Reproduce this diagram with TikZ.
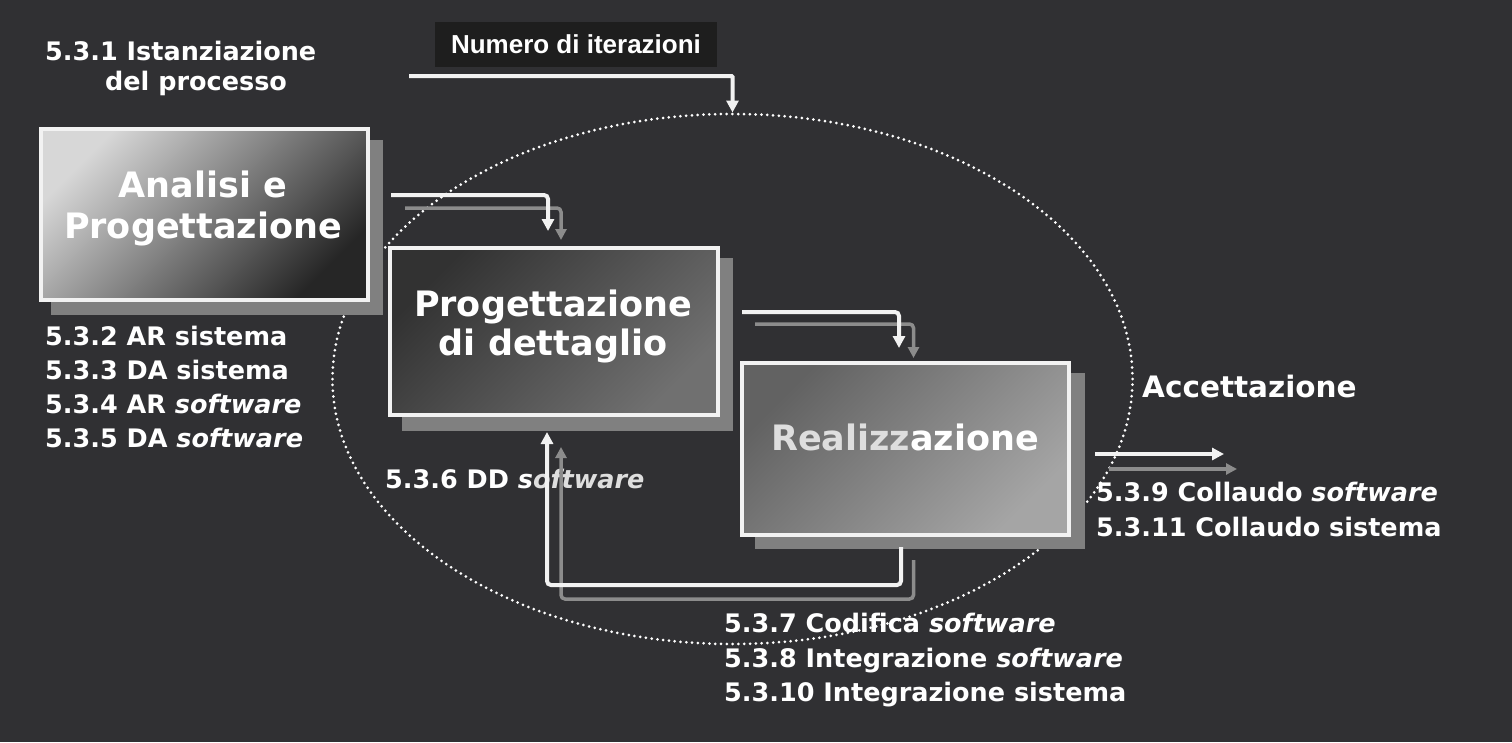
\documentclass[tikz,border=0pt]{standalone}
\usepackage{fontspec}
\setmainfont{DejaVu Sans}
\newfontfamily\arialfont{Liberation Sans}
\usetikzlibrary{arrows.meta,shapes.geometric}
\definecolor{bg}{RGB}{48,48,51}
\definecolor{tagbg}{RGB}{30,30,30}
\definecolor{linew}{RGB}{242,242,242}
\definecolor{lineg}{RGB}{140,140,140}
\definecolor{shadowg}{RGB}{128,128,128}
\definecolor{txtlight}{RGB}{222,222,222}
\definecolor{b1a}{RGB}{215,215,215}
\definecolor{b1b}{RGB}{38,38,38}
\definecolor{b2a}{RGB}{50,50,50}
\definecolor{b2b}{RGB}{112,112,112}
\definecolor{b3a}{RGB}{98,98,98}
\definecolor{b3b}{RGB}{165,165,165}
\begin{document}
\begin{tikzpicture}[x=1pt,y=-1pt,
  lbl/.style={anchor=base west, text=white, font=\fontsize{25.5}{30}\selectfont\bfseries, inner sep=0pt},
  boxtxt/.style={anchor=base, text=white, font=\fontsize{35}{40}\selectfont\bfseries, inner sep=0pt},
  shadowbox/.style={fill=shadowg, draw=none, inner sep=0pt},
  procbox/.style={draw=linew, line width=4pt, inner sep=0pt},
  wline/.style={draw=linew, line width=4pt, rounded corners=4pt, -{Triangle[length=12pt,width=12pt]}},
  gline/.style={draw=lineg, line width=3.5pt, rounded corners=4pt, -{Triangle[length=11pt,width=11pt]}},
  dotline/.style={draw=white, line width=3pt, line cap=round, dash pattern=on 0pt off 5.8pt}
]
% background
\fill[bg] (0,0) rectangle (1512,742);
\useasboundingbox (0,0) rectangle (1512,742);

% top-left label
\node[lbl] (t531a) at (45,60) {5.3.1 Istanziazione};
\node[lbl] (t531b) at (105,90) {del processo};

% tag
\node[fill=tagbg, minimum width=282pt, minimum height=45pt, inner sep=0pt, text=white,
      font=\fontsize{26}{30}\selectfont\arialfont\bfseries] (num) at (576,44.5) {Numero di iterazioni};

% left labels
\node[lbl] (t532) at (45,345) {5.3.2 AR sistema};
\node[lbl] (t533) at (45,379) {5.3.3 DA sistema};
\node[lbl] (t534) at (45,413) {5.3.4 AR \textit{software}};
\node[lbl] (t535) at (45,447) {5.3.5 DA \textit{software}};

\node[lbl] (t536) at (385,488) {5.3.6 DD \textit{s{\color{txtlight}oftware}}};

\node[lbl] (t537) at (724,632) {5.3.7 Codifica \textit{software}};
\node[lbl] (t538) at (724,667) {5.3.8 Integrazione \textit{software}};
\node[lbl] (t5310) at (724,701) {5.3.10 Integrazione sistema};

\node[lbl, font=\fontsize{29.5}{34}\selectfont\bfseries] (acc) at (1142,397) {Accettazione};
\node[lbl] (t539) at (1096,501) {5.3.9 Collaudo \textit{software}};
\node[lbl] (t5311) at (1096,536) {5.3.11 Collaudo sistema};

% ellipse (iteration)
\node[ellipse, minimum width=800pt, minimum height=530pt, inner sep=0pt, dotline] (ell) at (732.5,379) {};

% boxes: shadows
\node[shadowbox, minimum width=332pt, minimum height=175pt] (b1s) at (217,227.5) {};
\node[shadowbox, minimum width=331pt, minimum height=173pt] (b2s) at (567.5,344.5) {};
\node[shadowbox, minimum width=330pt, minimum height=176pt] (b3s) at (920,461) {};

% boxes
\node[procbox, minimum width=327pt, minimum height=171pt, top color=b1a, bottom color=b1b, shading angle=45] (b1) at (204.5,214.5) {};
\node[procbox, minimum width=328pt, minimum height=167pt, top color=b2a, bottom color=b2b, shading angle=45] (b2) at (554,331.5) {};
\node[procbox, minimum width=327pt, minimum height=172pt, top color=b3a, bottom color=b3b, shading angle=45] (b3) at (905.5,449) {};

% box texts
\node[boxtxt] (b1t1) at (203,197) {Analisi e};
\node[boxtxt] (b1t2) at (203,238) {Progettazione};
\node[boxtxt] (b2t1) at (553,316) {Progettazione};
\node[boxtxt] (b2t2) at (553,355) {di dettaglio};
\node[boxtxt] (b3t) at (905,450) {{\color{txtlight}Realizz}azione};

% connectors
\coordinate (numstart) at (409,76);
\draw[wline, rounded corners=1pt] (numstart) -| (ell.north);

\coordinate (a1w) at (391,195);
\coordinate (a1g) at (405,208);
\draw[gline] (a1g) -| ([xshift=7pt,yshift=6pt]b2.north);
\draw[wline] (a1w) -| ([xshift=-6pt,yshift=15pt]b2.north);

\coordinate (a2w) at (742,312);
\coordinate (a2g) at (755,324);
\draw[gline] (a2g) -| ([xshift=8pt,yshift=3pt]b3.north);
\draw[wline] (a2w) -| ([xshift=-6.5pt,yshift=13pt]b3.north);

\coordinate (fbw) at (901,547);
\coordinate (fbg) at (913.5,560);
\draw[gline] (fbg) -- ++(0,39) -| ([xshift=7pt,yshift=-30pt]b2.south);
\draw[wline] (fbw) -- ++(0,38) -| ([xshift=-7pt,yshift=-15pt]b2.south);

\coordinate (accwe) at (1224,454);
\coordinate (accge) at (1237,469);
\draw[gline] ([xshift=38pt,yshift=-20pt]b3.east) -- (accge);
\draw[wline] ([xshift=24pt,yshift=-5pt]b3.east) -- (accwe);
\end{tikzpicture}
\end{document}
